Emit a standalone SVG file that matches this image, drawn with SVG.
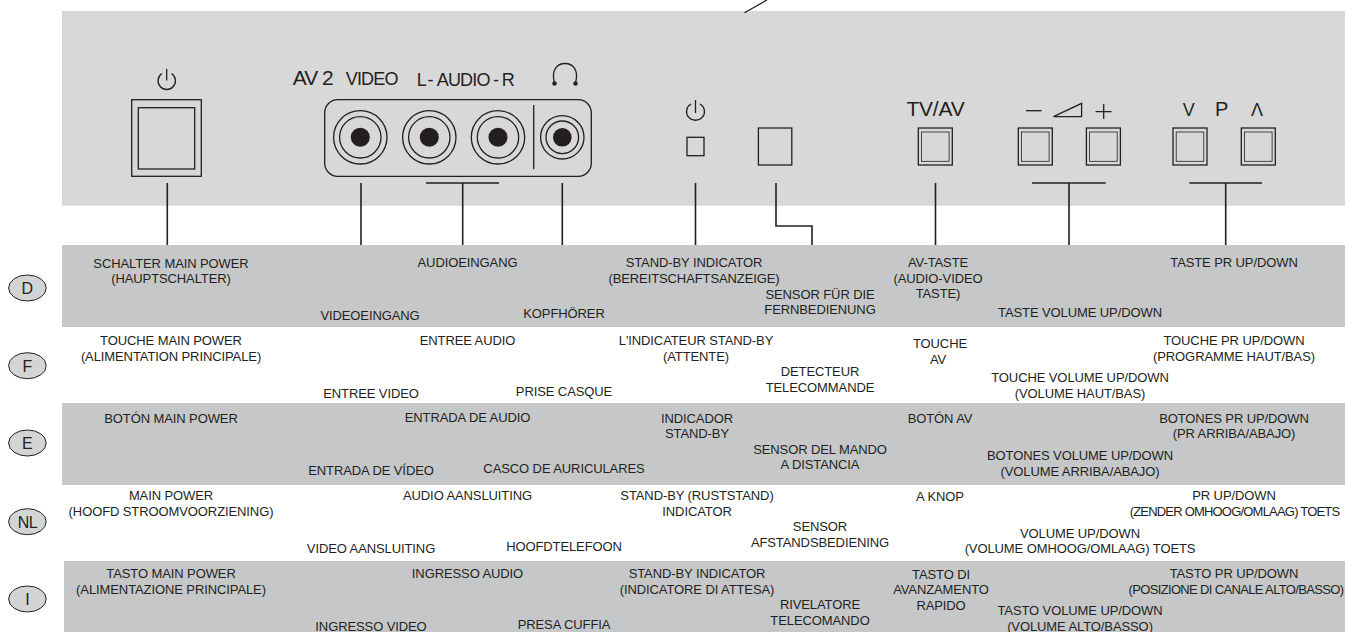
<svg xmlns="http://www.w3.org/2000/svg" width="1345" height="632" viewBox="0 0 1345 632">
<style>
.s{fill:none;stroke:#231f20;stroke-width:1.3}
.l{fill:none;stroke:#231f20;stroke-width:1.6}
.d{fill:#231f20}
text{font-family:"Liberation Sans",Arial,sans-serif;fill:#231f20}
.t{font-size:13px;letter-spacing:-.1px;text-anchor:middle}
.b{font-size:18px;letter-spacing:-.8px}
.k{font-size:16px;text-anchor:middle}
.c{stroke:#231f20;stroke-width:1;fill:#d3d4d5}
.g{fill:#c6c7c9}
</style>
<defs>
<g id="btn"><rect class="s" x="0" y="0" width="34" height="37"/><rect x="3.2" y="4" width="27.6" height="29.3" fill="none" stroke="#231f20" stroke-width=".8"/></g>
<g id="rca"><circle class="s" r="26.7"/><circle class="s" r="20.7"/><circle class="d" r="9.5"/></g>
</defs>
<rect x="62" y="11" width="1283" height="194.7" fill="#d8d8d8"/>
<rect class="g" x="62" y="245" width="1283" height="82"/>
<rect class="g" x="62" y="403" width="1283" height="82"/>
<rect class="g" x="64" y="561" width="1281" height="71"/>
<line class="s" x1="744.5" y1="12.7" x2="767" y2="0"/>
<g id="main-power">
<path class="s" d="M162 73.5A8.7 8.7 0 1 0 171.5 73.5M166.7 69V80.5"/>
<rect class="s" x="131.7" y="99.7" width="69.6" height="76.6"/>
<rect class="s" x="138.3" y="107.7" width="56.4" height="61.3"/>
</g>
<g id="av-inputs">
<text x="292.7" y="85" font-size="21" letter-spacing="-1">AV 2</text>
<text class="b" x="345.7" y="85">VIDEO</text>
<text class="b" y="86"><tspan x="416.7">L</tspan><tspan x="427.5">-</tspan><tspan x="436.7">AUDIO</tspan><tspan x="493">-</tspan><tspan x="501.7">R</tspan></text>
<rect class="s" x="324.7" y="99.7" width="266.6" height="76.6" rx="13"/>
<use href="#rca" x="360.3" y="137.3"/><use href="#rca" x="429.3" y="137.3"/><use href="#rca" x="498" y="137.3"/>
<line class="s" x1="533.7" y1="105" x2="533.7" y2="169.3"/>
</g>
<g id="headphone">
<path class="s" d="M554.5 83C551 70 557 63.5 565 63.5S579 70 575.5 83"/>
<circle class="d" cx="554.5" cy="83.5" r="2.2"/><circle class="d" cx="575.5" cy="83.5" r="2.2"/>
<circle class="s" cx="562.3" cy="137.3" r="21.7"/><circle class="s" cx="562.3" cy="137.3" r="16.3"/><circle class="d" cx="562.3" cy="137.3" r="9.3"/>
</g>
<g id="standby">
<path class="s" d="M691 104A9 8.7 0 1 0 700 104M695.5 100V113"/>
<rect class="s" x="687" y="137.3" width="17" height="18.4"/>
</g>
<g id="sensor"><rect class="s" x="758.4" y="128" width="33.4" height="37"/></g>
<g id="tv-av">
<text x="935.5" y="116" font-size="21" text-anchor="middle" letter-spacing="-.2">TV/AV</text>
<use href="#btn" x="918.3" y="128"/>
</g>
<g id="volume">
<line class="s" x1="1026" y1="110.7" x2="1041.6" y2="110.7"/>
<path class="s" d="M1053.5 116.7H1081.6V103.3Z"/>
<path class="s" d="M1095.5 111.7H1111.5M1103.7 104V119"/>
<use href="#btn" x="1018.3" y="128"/><use href="#btn" x="1086.4" y="128"/>
</g>
<g id="programme">
<text x="1188.7" y="116" font-size="18" text-anchor="middle">V</text>
<text x="1221.6" y="116" font-size="20" text-anchor="middle">P</text>
<text x="1257" y="116" font-size="18" text-anchor="middle">Λ</text>
<use href="#btn" x="1173" y="128"/><use href="#btn" x="1241.3" y="128"/>
</g>
<g id="connectors">
<path class="l" d="M167.3 183V245M361 183V245M426 183H499M462.7 183V245M562.3 183V245M695.5 183V245M776 183V226H812V245M935.5 183V245M1032 183H1105.7M1069 183V245M1189.4 183H1262M1225.7 183V245"/>
</g>
<g id="lang-d"><ellipse class="c" cx="27.4" cy="288" rx="18.8" ry="13"/><text class="k" x="27.4" y="294">D</text></g>
<g id="lang-f"><ellipse class="c" cx="27.4" cy="365.7" rx="18.8" ry="13"/><text class="k" x="27.4" y="371.5">F</text></g>
<g id="lang-e"><ellipse class="c" cx="27.4" cy="443" rx="18.8" ry="13"/><text class="k" x="27.4" y="449">E</text></g>
<g id="lang-nl"><ellipse class="c" cx="27.4" cy="521.7" rx="18.8" ry="13"/><text class="k" x="27.4" y="527.5" letter-spacing="-.5">NL</text></g>
<g id="lang-i"><ellipse class="c" cx="27.4" cy="599" rx="18.8" ry="13"/><text class="k" x="27.4" y="605">I</text></g>
<g id="labels">
<text class="t" x="171" y="268">SCHALTER MAIN POWER</text><text class="t" x="171" y="283">(HAUPTSCHALTER)</text>
<text class="t" x="467.5" y="267">AUDIOEINGANG</text>
<text class="t" x="694" y="267">STAND-BY INDICATOR</text><text class="t" x="694" y="283">(BEREITSCHAFTSANZEIGE)</text>
<text class="t" x="370" y="320">VIDEOEINGANG</text>
<text class="t" x="564" y="318">KOPFHÖRER</text>
<text class="t" x="820" y="299">SENSOR FÜR DIE</text><text class="t" x="820" y="314">FERNBEDIENUNG</text>
<text class="t" x="938" y="267">AV-TASTE</text><text class="t" x="938" y="283">(AUDIO-VIDEO</text><text class="t" x="938" y="298">TASTE)</text>
<text class="t" x="1080" y="317">TASTE VOLUME UP/DOWN</text>
<text class="t" x="1234" y="267">TASTE PR UP/DOWN</text>

<text class="t" x="171" y="345">TOUCHE MAIN POWER</text><text class="t" x="171" y="361">(ALIMENTATION PRINCIPALE)</text>
<text class="t" x="467.5" y="345">ENTREE AUDIO</text>
<text class="t" x="696" y="345">L'INDICATEUR STAND-BY</text><text class="t" x="696" y="361">(ATTENTE)</text>
<text class="t" x="371" y="398">ENTREE VIDEO</text>
<text class="t" x="564" y="396">PRISE CASQUE</text>
<text class="t" x="820" y="376">DETECTEUR</text><text class="t" x="820" y="392">TELECOMMANDE</text>
<text class="t" x="940" y="348">TOUCHE</text><text class="t" x="938" y="364">AV</text>
<text class="t" x="1080" y="382">TOUCHE VOLUME UP/DOWN</text><text class="t" x="1080" y="398">(VOLUME HAUT/BAS)</text>
<text class="t" x="1234" y="345">TOUCHE PR UP/DOWN</text><text class="t" x="1234" y="361">(PROGRAMME HAUT/BAS)</text>

<text class="t" x="171" y="423">BOTÓN MAIN POWER</text>
<text class="t" x="467.5" y="422">ENTRADA DE AUDIO</text>
<text class="t" x="697" y="423">INDICADOR</text><text class="t" x="697" y="438">STAND-BY</text>
<text class="t" x="371" y="475">ENTRADA DE VÍDEO</text>
<text class="t" x="564" y="473">CASCO DE AURICULARES</text>
<text class="t" x="820" y="454">SENSOR DEL MANDO</text><text class="t" x="820" y="469">A DISTANCIA</text>
<text class="t" x="940" y="423">BOTÓN AV</text>
<text class="t" x="1080" y="460">BOTONES VOLUME UP/DOWN</text><text class="t" x="1080" y="476">(VOLUME ARRIBA/ABAJO)</text>
<text class="t" x="1234" y="423">BOTONES PR UP/DOWN</text><text class="t" x="1234" y="438">(PR ARRIBA/ABAJO)</text>

<text class="t" x="171" y="500">MAIN POWER</text><text class="t" x="171" y="516">(HOOFD STROOMVOORZIENING)</text>
<text class="t" x="467.5" y="500">AUDIO AANSLUITING</text>
<text class="t" x="697" y="500">STAND-BY (RUSTSTAND)</text><text class="t" x="697" y="516">INDICATOR</text>
<text class="t" x="371" y="553">VIDEO AANSLUITING</text>
<text class="t" x="564" y="551">HOOFDTELEFOON</text>
<text class="t" x="820" y="531">SENSOR</text><text class="t" x="820" y="547">AFSTANDSBEDIENING</text>
<text class="t" x="940" y="501">A KNOP</text>
<text class="t" x="1080" y="538">VOLUME UP/DOWN</text><text class="t" x="1080" y="553">(VOLUME OMHOOG/OMLAAG) TOETS</text>
<text class="t" x="1234" y="500">PR UP/DOWN</text><text class="t" x="1234.5" y="516" style="letter-spacing:-.8px">(ZENDER OMHOOG/OMLAAG) TOETS</text>

<text class="t" x="171" y="578">TASTO MAIN POWER</text><text class="t" x="171" y="594">(ALIMENTAZIONE PRINCIPALE)</text>
<text class="t" x="467.5" y="578">INGRESSO AUDIO</text>
<text class="t" x="697" y="578">STAND-BY INDICATOR</text><text class="t" x="697" y="594">(INDICATORE DI ATTESA)</text>
<text class="t" x="371" y="631">INGRESSO VIDEO</text>
<text class="t" x="564" y="629">PRESA CUFFIA</text>
<text class="t" x="820" y="609">RIVELATORE</text><text class="t" x="820" y="625">TELECOMANDO</text>
<text class="t" x="941" y="579">TASTO DI</text><text class="t" x="941" y="594">AVANZAMENTO</text><text class="t" x="941" y="610">RAPIDO</text>
<text class="t" x="1080" y="615">TASTO VOLUME UP/DOWN</text><text class="t" x="1080" y="631">(VOLUME ALTO/BASSO)</text>
<text class="t" x="1234" y="578">TASTO PR UP/DOWN</text><text class="t" x="1236" y="594" style="letter-spacing:-.65px">(POSIZIONE DI CANALE ALTO/BASSO)</text>
</g>
</svg>
